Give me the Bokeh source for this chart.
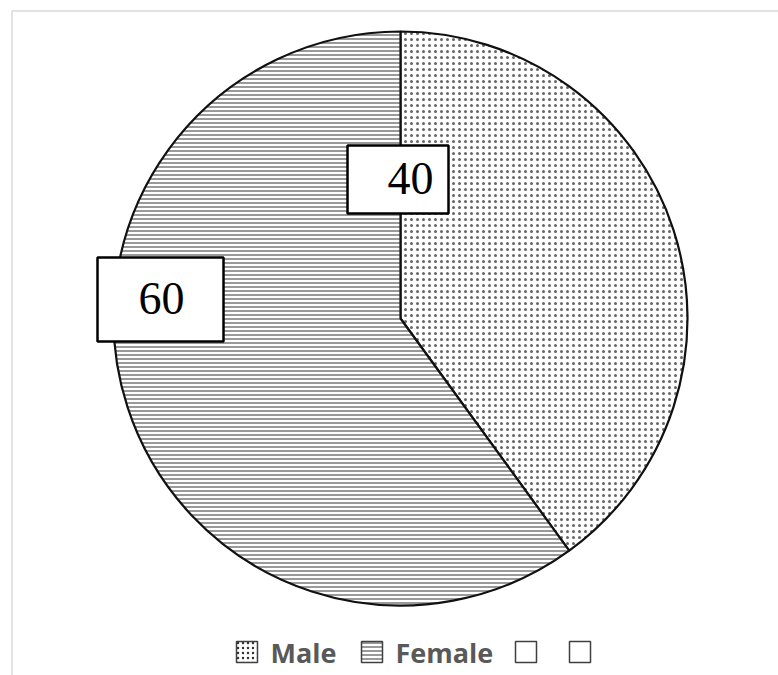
import math
from bokeh.plotting import figure
from bokeh.models import Range1d
from bokeh.core.properties import value
from bokeh.embed import file_html
from bokeh.resources import INLINE

# ---- data ----
categories = ["Male", "Female"]
values = [40, 60]
label_texts = ["40", "60"]
legend_labels = ["Male", "Female", "", ""]

W, H = 778, 675
p = figure(width=W, height=H, output_backend="svg", toolbar_location=None,
           x_range=Range1d(0, W), y_range=Range1d(0, H),
           min_border=0, min_border_left=0, min_border_right=0,
           min_border_top=0, min_border_bottom=0)
p.axis.visible = False
p.grid.visible = False
p.outline_line_color = None
p.background_fill_color = "white"
p.border_fill_color = "white"

def Y(py):
    return H - py

# chart area border (light gray, cropped at right/bottom)
p.line(x=[11.5, 11.5, 800], y=[Y(700), Y(10.5), Y(10.5)], line_color="#d9d9d9", line_width=1.5)

# ---- pie ----
cx, cy, r = 400, Y(318), 287
total = sum(values)
hatches = ["dot", "horizontal_line"]
hscale = [6, 4]
hcolor = ["#666666", "#333333"]
hweight = [0.5, 1]
start = math.pi / 2
for i, v in enumerate(values):
    end = start - v / total * 2 * math.pi
    p.wedge(x=cx, y=cy, radius=r, start_angle=end, end_angle=start,
            fill_color="white", line_color="#111111", line_width=2.2,
            hatch_pattern=hatches[i], hatch_scale=hscale[i],
            hatch_color=hcolor[i], hatch_weight=hweight[i])
    start = end

# ---- data label boxes ----
boxes = [(347, 145, 448, 213), (97, 257, 223, 341)]
text_pos = [(410, 178), (161, 298)]
for (x0, y0, x1, y1), (tx, ty), t in zip(boxes, text_pos, label_texts):
    p.quad(left=x0, right=x1, top=Y(y0), bottom=Y(y1), fill_color="white",
           line_color="black", line_width=2.5)
    p.text(x=[tx], y=[Y(ty)], text=[t], text_align="center", text_baseline="middle",
           text_font=value("Liberation Serif"), text_font_size="46px", text_color="black")

# ---- legend ----
sq_x = [236, 361, 515, 569]
sq_hatch = ["dot", "horizontal_line", None, None]
sq_scale = [5, 4, 1, 1]
for i, sx in enumerate(sq_x):
    kw = {}
    if sq_hatch[i]:
        kw = dict(hatch_pattern=sq_hatch[i], hatch_scale=sq_scale[i], hatch_color="#333333", hatch_weight=1)
    p.quad(left=sx, right=sx + 21, top=Y(641), bottom=Y(662), fill_color="white",
           line_color="#404040", line_width=1.5, **kw)
text_x = [270, 395]
for tx, t in zip(text_x, legend_labels[:2]):
    p.text(x=[tx], y=[Y(652)], text=[t], text_align="left", text_baseline="middle",
           text_font=value("Open Sans"), text_font_style="bold", text_font_size="27px",
           text_color="#595959")

open("out.html", "w").write(file_html(p, INLINE))
